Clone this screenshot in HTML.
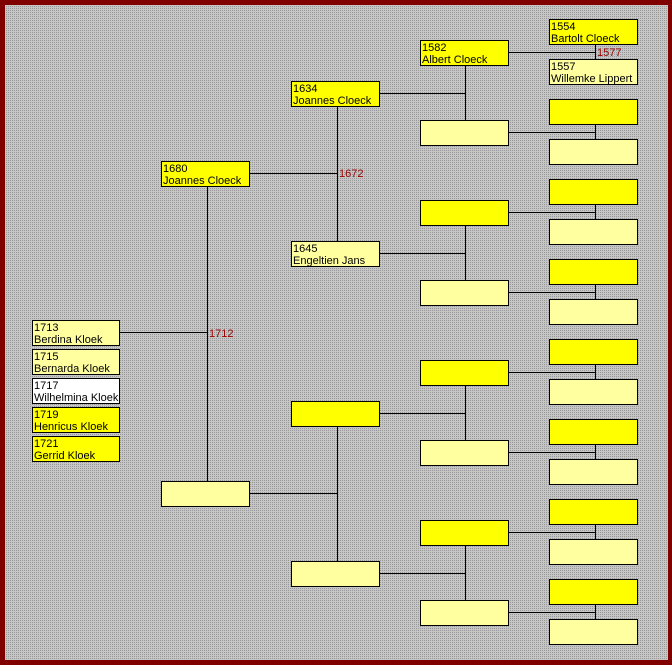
<!DOCTYPE html>
<html><head><meta charset="utf-8"><style>
html,body{margin:0;padding:0;width:672px;height:665px;overflow:hidden;background:#800000}
svg{display:block}
text{font-family:"Liberation Sans",Arial,sans-serif;font-size:11px;fill:#000}
.r{fill:#990000}
</style></head><body>
<svg width="672" height="665" xmlns="http://www.w3.org/2000/svg">
<defs>
<pattern id="p" width="2" height="2" patternUnits="userSpaceOnUse">
<rect width="2" height="2" fill="#c6c6c6"/><rect width="1" height="1" fill="#989898"/>
</pattern>
</defs>
<rect x="0" y="0" width="672" height="665" fill="#800000"/>
<rect x="5" y="5" width="663" height="655" fill="url(#p)"/>
<g stroke="#000" stroke-width="1" fill="none" shape-rendering="crispEdges">
<path d="M595.5 44V59 M508 52.5H595.5
M595.5 124V139 M508 132.5H595.5
M595.5 204V219 M508 212.5H595.5
M595.5 284V299 M508 292.5H595.5
M595.5 364V379 M508 372.5H595.5
M595.5 444V459 M508 452.5H595.5
M595.5 524V539 M508 532.5H595.5
M595.5 604V619 M508 612.5H595.5
M465.5 65V120 M379 93.5H465.5
M465.5 225V280 M379 253.5H465.5
M465.5 385V440 M379 413.5H465.5
M465.5 545V600 M379 573.5H465.5
M337.5 106V241 M249 173.5H337.5
M337.5 426V561 M249 493.5H337.5
M207.5 186V481 M119 332.5H207.5"/>
</g>
<g stroke="#000" stroke-width="1" shape-rendering="crispEdges">
<rect x="549.5" y="19.5" width="88" height="25" fill="#ffff00"/>
<rect x="549.5" y="59.5" width="88" height="25" fill="#ffffa0"/>
<rect x="549.5" y="99.5" width="88" height="25" fill="#ffff00"/>
<rect x="549.5" y="139.5" width="88" height="25" fill="#ffffa0"/>
<rect x="549.5" y="179.5" width="88" height="25" fill="#ffff00"/>
<rect x="549.5" y="219.5" width="88" height="25" fill="#ffffa0"/>
<rect x="549.5" y="259.5" width="88" height="25" fill="#ffff00"/>
<rect x="549.5" y="299.5" width="88" height="25" fill="#ffffa0"/>
<rect x="549.5" y="339.5" width="88" height="25" fill="#ffff00"/>
<rect x="549.5" y="379.5" width="88" height="25" fill="#ffffa0"/>
<rect x="549.5" y="419.5" width="88" height="25" fill="#ffff00"/>
<rect x="549.5" y="459.5" width="88" height="25" fill="#ffffa0"/>
<rect x="549.5" y="499.5" width="88" height="25" fill="#ffff00"/>
<rect x="549.5" y="539.5" width="88" height="25" fill="#ffffa0"/>
<rect x="549.5" y="579.5" width="88" height="25" fill="#ffff00"/>
<rect x="549.5" y="619.5" width="88" height="25" fill="#ffffa0"/>
<rect x="420.5" y="40.5" width="88" height="25" fill="#ffff00"/>
<rect x="420.5" y="120.5" width="88" height="25" fill="#ffffa0"/>
<rect x="420.5" y="200.5" width="88" height="25" fill="#ffff00"/>
<rect x="420.5" y="280.5" width="88" height="25" fill="#ffffa0"/>
<rect x="420.5" y="360.5" width="88" height="25" fill="#ffff00"/>
<rect x="420.5" y="440.5" width="88" height="25" fill="#ffffa0"/>
<rect x="420.5" y="520.5" width="88" height="25" fill="#ffff00"/>
<rect x="420.5" y="600.5" width="88" height="25" fill="#ffffa0"/>
<rect x="291.5" y="81.5" width="88" height="25" fill="#ffff00"/>
<rect x="291.5" y="241.5" width="88" height="25" fill="#ffffa0"/>
<rect x="291.5" y="401.5" width="88" height="25" fill="#ffff00"/>
<rect x="291.5" y="561.5" width="88" height="25" fill="#ffffa0"/>
<rect x="161.5" y="161.5" width="88" height="25" fill="#ffff00"/>
<rect x="161.5" y="481.5" width="88" height="25" fill="#ffffa0"/>
<rect x="32.5" y="320.5" width="87" height="25" fill="#ffffa0"/>
<rect x="32.5" y="349.5" width="87" height="25" fill="#ffffa0"/>
<rect x="32.5" y="378.5" width="87" height="25" fill="#ffffff"/>
<rect x="32.5" y="407.5" width="87" height="25" fill="#ffff00"/>
<rect x="32.5" y="436.5" width="87" height="25" fill="#ffff00"/>
</g>
<text x="551" y="30">1554</text><text x="551" y="42">Bartolt Cloeck</text>
<text x="551" y="70">1557</text><text x="551" y="82">Willemke Lippert</text>
<text x="597" y="56" class="r">1577</text>
<text x="422" y="51">1582</text><text x="422" y="63">Albert Cloeck</text>
<text x="293" y="92">1634</text><text x="293" y="104">Joannes Cloeck</text>
<text x="293" y="252">1645</text><text x="293" y="264">Engeltien Jans</text>
<text x="339" y="177" class="r">1672</text>
<text x="163" y="172">1680</text><text x="163" y="184">Joannes Cloeck</text>
<text x="209" y="337" class="r">1712</text>
<text x="34" y="331">1713</text><text x="34" y="343">Berdina Kloek</text>
<text x="34" y="360">1715</text><text x="34" y="372">Bernarda Kloek</text>
<text x="34" y="389">1717</text><text x="34" y="401">Wilhelmina Kloek</text>
<text x="34" y="418">1719</text><text x="34" y="430">Henricus Kloek</text>
<text x="34" y="447">1721</text><text x="34" y="459">Gerrid Kloek</text>
</svg>
</body></html>
